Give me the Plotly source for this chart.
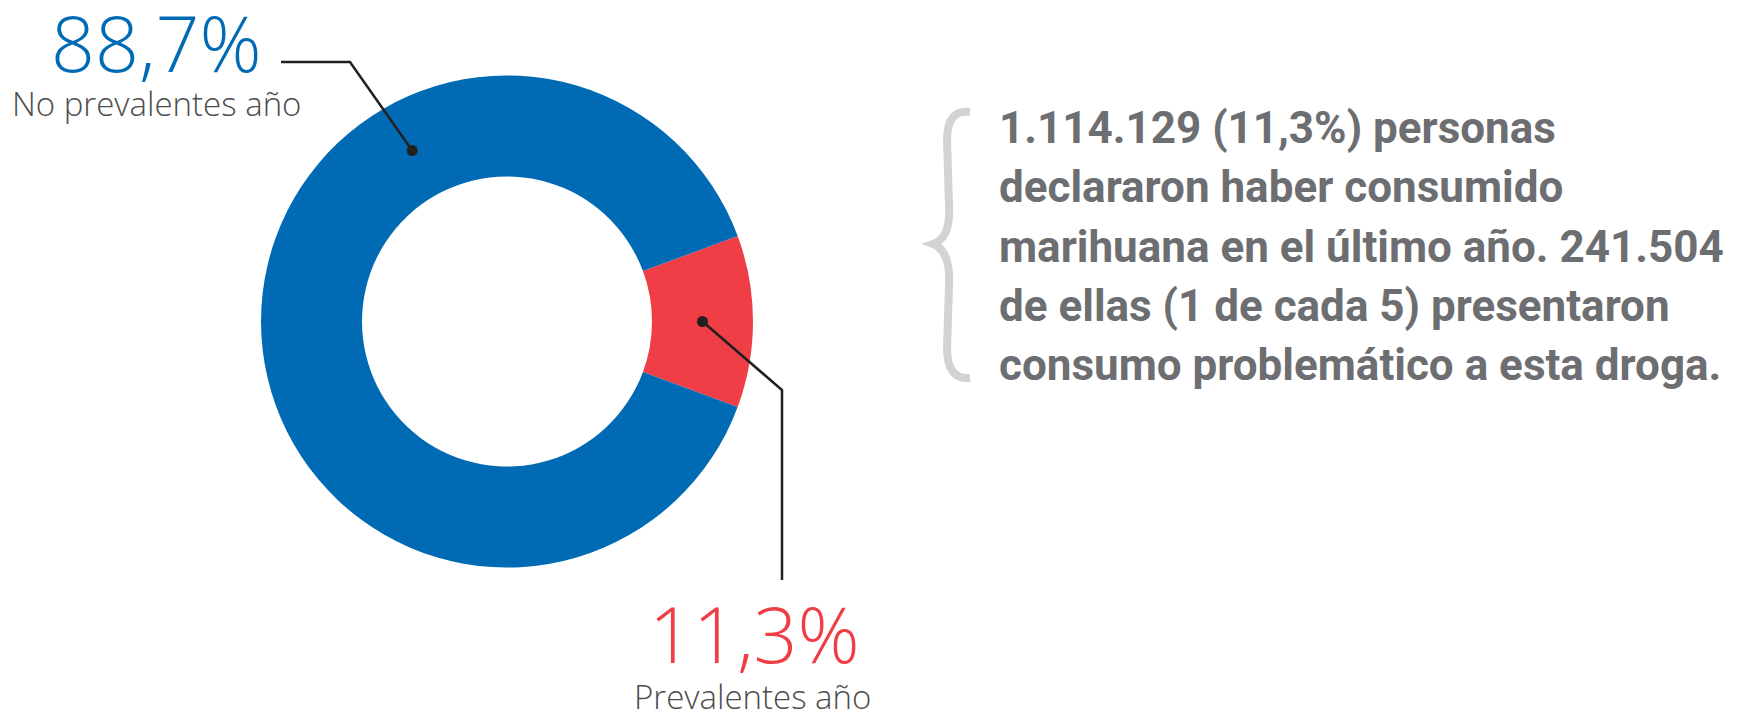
import math
import plotly.graph_objects as go

# ---- data ----
labels = ["Prevalentes año", "No prevalentes año"]
values = [11.3, 88.7]
pct_text = ["11,3%", "88,7%"]
colors = ["#ef3e45", "#006bb4"]
note_lines = [
    "1.114.129 (11,3%) personas",
    "declararon haber consumido",
    "marihuana en el último año. 241.504",
    "de ellas (1 de cada 5) presentaron",
    "consumo problemático a esta droga.",
]

W, H = 1746, 709
CX, CY, R_OUT, R_IN = 507, 321.5, 246, 145
HOLE = R_IN / R_OUT
ROT = 90 - values[0] * 3.6 / 2  # red slice centred at 3 o'clock

fig = go.Figure()
fig.add_trace(go.Pie(
    labels=labels, values=values, sort=False, direction="clockwise",
    rotation=ROT, hole=HOLE, textinfo="none", showlegend=False,
    marker=dict(colors=colors, line=dict(width=0)),
    domain=dict(x=[(CX - R_OUT) / W, (CX + R_OUT) / W],
                y=[(H - CY - R_OUT) / H, (H - CY + R_OUT) / H]),
))

# leader line geometry
r_mid = (R_OUT + R_IN) / 2
def pt(angle_deg):
    a = math.radians(angle_deg)
    return CX + r_mid * math.cos(a), CY - r_mid * math.sin(a)

rx, ry = pt(0)       # red slice midpoint
bx, by = pt(119)     # point on blue slice
line_col = "#231f20"
shapes = [
    dict(type="path", path=f"M 281,62 L 350,62 L {bx:.1f},{by:.1f}",
         line=dict(color=line_col, width=2.5)),
    dict(type="path", path=f"M {rx:.1f},{ry:.1f} L 782,390 L 782,580",
         line=dict(color=line_col, width=2.5)),
    dict(type="circle", x0=bx - 5.5, x1=bx + 5.5, y0=by - 5.5, y1=by + 5.5,
         fillcolor=line_col, line=dict(width=0)),
    dict(type="circle", x0=rx - 5.5, x1=rx + 5.5, y0=ry - 5.5, y1=ry + 5.5,
         fillcolor=line_col, line=dict(width=0)),
    dict(type="path",
         path="M 970,112 Q 947,109 947,140 L 949,205 Q 951,238 933,244 "
              "Q 951,251 949,286 L 947,348 Q 947,380 970,378",
         line=dict(color="#d1d3d4", width=8)),
]
for s in shapes:
    s.update(xref="x", yref="y", layer="above")

big_font = "Open Sans, Lato, sans-serif"
annotations = [
    dict(x=156, y=42, text=pct_text[1], xanchor="center", yanchor="middle",
         font=dict(family=big_font, size=77, color=colors[1], weight=300)),
    dict(x=156, y=103, text=labels[1], xanchor="center", yanchor="middle",
         font=dict(family=big_font, size=33, color="#4d4d4d", weight=300)),
    dict(x=754, y=633, text=pct_text[0], xanchor="center", yanchor="middle",
         font=dict(family=big_font, size=77, color=colors[0], weight=300)),
    dict(x=752, y=696, text=labels[0], xanchor="center", yanchor="middle",
         font=dict(family=big_font, size=33, color="#4d4d4d", weight=300)),
]
line_y = [128, 187, 247, 306, 365]
for txt, yy in zip(note_lines, line_y):
    annotations.append(dict(
        x=997, y=yy, text=f"<b>{txt}</b>", xanchor="left", yanchor="middle",
        font=dict(family="Roboto, Liberation Sans, sans-serif",
                  size=44, color="#6d6e71")))
for a in annotations:
    a.update(xref="x", yref="y", showarrow=False)

fig.update_layout(
    width=W, height=H, margin=dict(l=0, r=0, t=0, b=0),
    paper_bgcolor="white", plot_bgcolor="rgba(0,0,0,0)",
    xaxis=dict(range=[0, W], visible=False, fixedrange=True, domain=[0, 1]),
    yaxis=dict(range=[H, 0], visible=False, fixedrange=True, domain=[0, 1]),
    shapes=shapes, annotations=annotations,
)
fig.write_html("out.html", config={"displayModeBar": False},
               post_script="document.body.style.margin='0px';")
